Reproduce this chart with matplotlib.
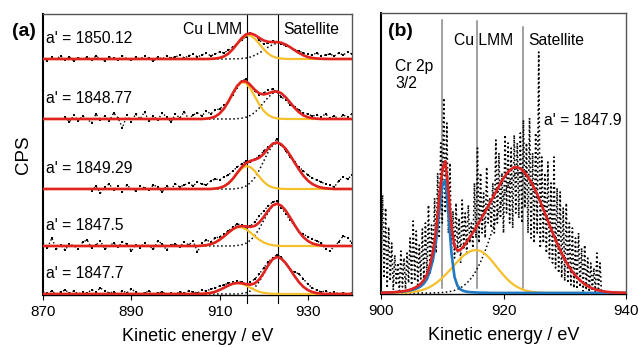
import numpy as np
import matplotlib
matplotlib.use("Agg")
import matplotlib.pyplot as plt

plt.rcParams['font.family'] = ['Liberation Sans', 'DejaVu Sans']

# ---------------- panel (a): five Cu LMM spectra (heights in arbitrary CPS) ----------------
labels_a = ["a' = 1850.12", "a' = 1848.77", "a' = 1849.29", "a' = 1847.5", "a' = 1847.7"]
start_a = [870, 875, 881, 870, 870]

data_a1 = [1, -2, 2, 0, 3, -1, 2, -2, 1, 0,
           2, -1, 3, 0, -2, 2, 1, -1, 3, 0,
           -1, 2, 0, 3, 1, -2, 2, 0, 3, 1,
           2, 4, 1, 3, 5, 2, 4, 6, 3, 5,
           7, 6, 9, 12, 15, 19, 22, 26, 24, 19,
           15, 16, 18, 17, 15, 13, 12, 9, 8, 6,
           5, 4, 6, 3, 4, 5, 3, 6, 4, 7,
           5]
data_a2 = [2, -3, 4, -2, 3, 0, -4, 5, -1, 3,
           -2, 6, 1, -9, 4, -3, 5, 0, 7, -2,
           3, -1, 6, 2, -3, 5, 1, 7, 0, 4,
           6, 3, 8, 5, 9, 10, 14, 17, 24, 31,
           38, 40, 34, 28, 24, 26, 29, 30, 27, 22,
           19, 14, 12, 9, 6, 5, 3, 4, 2, 5,
           1, 3, 0, 4, 2, 5]
data_a3 = [-2, 3, -4, 2, 5, -1, 3, -3, 4, 0,
           -2, 3, 1, -1, 4, 2, -3, 3, 0, 5,
           2, 4, 6, 3, 7, 5, 4, 8, 10, 9,
           12, 14, 18, 22, 25, 28, 27, 30, 33, 38,
           42, 45, 50, 44, 38, 32, 27, 22, 18, 14,
           11, 9, 7, 5, 4, 2, 8, 12, 10, 14]
data_a4 = [3, -2, 8, -3, 1, -4, 2, 0, -3, 4,
           6, -2, 1, 5, -3, 0, 3, -1, 4, 2,
           -5, 1, -2, 3, 0, -3, 5, 2, -4, 1,
           2, -1, 4, 1, 5, -6, 3, 6, 4, 8,
           9, 12, 15, 19, 22, 21, 18, 20, 24, 30,
           35, 40, 44, 45, 38, 32, 26, 20, 14, 12,
           9, 7, 5, 3, -3, -5, 0, 4, 10, 8,
           3]
data_a5 = [2, 1, 3, 0, 2, 4, 1, 3, 0, 2,
           1, 4, 2, 6, 3, 1, 2, 0, 3, 1,
           5, 2, 0, 1, 3, 0, 1, 2, 0, 1,
           0, 2, 1, 3, 2, 1, 4, 3, 5, 6,
           8, 9, 11, 12, 13, 12, 10, 12, 15, 20,
           26, 32, 36, 39, 37, 30, 25, 22, 20, 15,
           10, 6, 4, 2, 3, 1, 2, 0, 1, 0,
           1]

# fitted components, 870..940 eV in 1 eV steps (zero below 900 eV)
fit_e_a = np.arange(870, 941)
cu_a1 = [0] * 30 + [0, 0, 0, 0, 0, 0, 0, 0, 0.1,
                    0.4, 1.1, 2.6, 5.4, 9.7, 15.1, 20.3, 23.6, 23.6, 20.3, 15.1, 9.7, 5.4, 2.6, 1.1, 0.4, 0.1] + [0] * 15
sat_a1 = [0] * 30 + [0] * 13 + [0.1, 0.2, 0.5, 1.0, 2.0, 3.7, 6.0, 8.8, 11.8, 14.3, 15.8,
                                15.8, 14.3, 11.8, 8.8, 6.0, 3.7, 2.0, 1.0, 0.5, 0.2, 0.1] + [0] * 6
cu_a2 = [0] * 30 + [0] * 7 + [0.3, 1.0, 2.4, 5.4, 10.4, 17.5, 25.7, 32.9, 36.8, 35.8, 30.3,
                              22.4, 14.5, 8.1, 4.0, 1.7, 0.6, 0.2] + [0] * 16
sat_a2 = [0] * 30 + [0] * 14 + [0.3, 0.8, 1.8, 3.6, 6.7, 11.1, 16.4, 21.6, 25.5, 27,
                                25.5, 21.6, 16.4, 11.1, 6.7, 3.6, 1.8, 0.8, 0.3] + [0] * 8
cu_a3 = [0] * 30 + [0] * 9 + [0.4, 1.1, 2.7, 5.6, 10.1, 15.6, 20.5, 22.9, 21.9, 17.8, 12.3,
                              7.2, 3.6, 1.6, 0.6, 0.2] + [0] * 16
sat_a3 = [0] * 30 + [0] * 14 + [0.5, 1.3, 3.0, 6.2, 11.5, 18.9, 27.9, 36.8, 43.5, 46,
                                44.4, 40.1, 33.7, 26.4, 19.4, 13.2, 8.4, 5.0, 2.8, 1.4, 0.7, 0.3] + [0] * 5
cu_a4 = [0] * 30 + [0] * 6 + [0.3, 0.8, 1.8, 3.5, 6.2, 9.6, 13.4, 16.8, 18.7, 18.7, 16.8,
                              13.4, 9.6, 6.2, 3.5, 1.8, 0.8, 0.3] + [0] * 17
sat_a4 = [0] * 30 + [0] * 14 + [0.5, 1.2, 2.8, 5.7, 10.5, 17.3, 25.5, 33.6, 39.7, 42,
                                40.2, 35.3, 28.4, 21.0, 14.2, 8.8, 5.0, 2.6, 1.3, 0.5] + [0] * 7
cu_a5 = [0] * 30 + [0] * 6 + [0.2, 0.5, 1.1, 2.2, 4.0, 6.2, 8.5, 10.3, 11, 10.3, 8.5,
                              6.2, 4.0, 2.2, 1.1, 0.5, 0.2] + [0] * 18
sat_a5 = [0] * 30 + [0] * 15 + [0.5, 1.3, 3.1, 6.7, 12.4, 20.0, 28.1, 34.5, 37,
                                35.3, 30.8, 24.5, 17.8, 11.8, 7.1, 3.9, 2.0, 0.9, 0.4] + [0] * 7

data_a = [data_a1, data_a2, data_a3, data_a4, data_a5]
cu_a = [cu_a1, cu_a2, cu_a3, cu_a4, cu_a5]
sat_a = [sat_a1, sat_a2, sat_a3, sat_a4, sat_a5]
offsets_a = [235, 175, 105, 48, 0]
lines_a = [916.3, 923.2]

# ---------------- panel (b): Cr 2p 3/2 + Cu LMM ----------------
data_b = [10, 98, 15, 85,  5, 66, 12, 50,  3, 38, 8, 30,  2, 42, 6, 35,
          4, 40, 10, 55,  8, 72, 12, 62,  6, 48, 14, 64,  10, 70, 18, 88,
          20, 68, 30, 95,  40, 120, 55, 150,  70, 195, 80, 170,  60, 130, 45, 82,
          35, 90, 40, 75,  30, 93, 45, 80,  38, 88, 50, 70,  45, 110, 55, 145,
          50, 120, 60, 100,  55, 126, 70, 95,  65, 110, 60, 153,  70, 140, 75, 120,
          60, 158, 80, 150,  70, 145, 65, 158,  80, 150, 75, 160,  70, 173, 85, 150,
          60, 175, 55, 140,  50, 160, 60, 241,  45, 136, 50, 120,  40, 131, 35, 110,
          30, 136, 25, 105,  20, 101, 15, 85,  12, 90, 10, 70,  8, 65, 5, 55,
          4, 60, 6, 45,  2, 48, 3, 35,  1, 30, 2, 25,  1, 40, 0, 30,
          0]
data_e_b = np.arange(len(data_b)) * 0.25 + 900

fit_e_b = np.arange(81) * 0.5 + 900
cr_b = [0.3, 0.4, 0.5, 0.6, 0.7, 0.9, 1.1, 1.4, 1.8, 2.3, 3.0, 3.8, 5.0, 6.8, 9.5, 14,
        22, 34, 53, 82, 107, 113, 80, 40, 16, 7, 3.5, 2.0, 1.3, 0.9, 0.7, 0.5,
        0.4, 0.3, 0.3, 0.2] + [0.1] * 45
cu_b = [0] * 5 + [0.1, 0.2, 0.3, 0.4, 0.6, 0.9, 1.4, 1.9, 2.6, 3.5, 4.7, 6.1, 7.9, 10.0,
                  12.4, 15.1, 18.1, 21.3, 24.7, 28.1, 31.5, 34.7, 37.5, 39.8, 41.5, 42.6,
                  43, 42.5, 41.2, 39.0, 36.2, 32.8, 29.1, 25.3, 21.5, 17.9, 14.6, 11.6, 9.0,
                  6.9, 5.2, 3.8, 2.7, 1.9, 1.3, 0.9, 0.6, 0.4, 0.2, 0.1] + [0] * 26
sat_b = [0] * 17 + [0.1, 0.2, 0.3, 0.5, 0.8, 1.2, 1.8, 2.6, 3.8, 5.3, 7.3, 9.9, 13.1, 17.1,
                    22.0, 27.8, 34.5, 42.1, 50.5, 59.5, 69.0, 78.5, 87.9, 96.7, 104.5, 111.0,
                    115.9, 119, 120, 119.3, 117.3, 114.0, 109.6, 104.2, 97.9, 91.0, 83.5, 75.9,
                    68.2, 60.5, 53.2, 46.1, 39.6, 33.6, 28.2, 23.4, 19.2, 15.6, 12.5, 9.9, 7.8,
                    6.0, 4.6, 3.5, 2.6, 1.9, 1.4, 1.0, 0.7, 0.5, 0.4, 0.3, 0.2, 0.1]
lines_b = [910.0, 915.7, 923.2]

RED = '#e02320'
YEL = '#f4c02c'
BLUE = '#1f78c0'

fig = plt.figure(figsize=(6.38, 3.47), dpi=100)
axa = fig.add_axes([0.0674, 0.1499, 0.4843, 0.8098])
axb = fig.add_axes([0.5972, 0.1527, 0.3840, 0.8098])

# panel (a)
for d, c, s, off, st, lab in zip(data_a, cu_a, sat_a, offsets_a, start_a, labels_a):
    d = np.array(d, dtype=float)
    c = np.array(c, dtype=float)
    s = np.array(s, dtype=float)
    e = np.arange(st, st + len(d))
    axa.plot(e, d + off, color='k', ls=':', lw=1.0, marker='s', ms=1.7, mew=0, zorder=2)
    axa.plot(fit_e_a, s + off, color='k', ls=':', lw=1.1, zorder=3)
    axa.plot(fit_e_a, c + off, color=YEL, lw=1.6, zorder=4)
    axa.plot(fit_e_a, c + s + off, color=RED, lw=1.9, zorder=5)
    axa.text(870.6, off + 20, lab, fontsize=11.3, ha='left', va='center')
for xl in lines_a:
    axa.plot([xl, xl], [-9, 280], color='k', lw=0.8, clip_on=False, zorder=1)

axa.text(915.2, 264, 'Cu LMM', fontsize=11.3, ha='right', va='center')
axa.text(924.5, 264, 'Satellite', fontsize=11.3, ha='left', va='center')
axa.set_xlim(870, 940)
axa.set_ylim(-1, 280)
axa.set_xticks([870, 890, 910, 930])
axa.set_yticks([])
axa.set_xlabel('Kinetic energy / eV', fontsize=13, labelpad=6)
axa.set_ylabel('CPS', fontsize=13.5)
axa.yaxis.set_label_coords(-0.036, 0.5)

# panel (b)
cr = np.array(cr_b)
cu = np.array(cu_b)
sat = np.array(sat_b)
axb.plot(data_e_b, data_b, color='k', ls=':', lw=1.2, zorder=2)
for xl, top in zip(lines_b, [0.975, 0.97, 0.95]):
    axb.axvline(xl, ymin=0.02, ymax=top, color='#888888', lw=1.1, zorder=1)
axb.plot(fit_e_b, sat, color='k', ls=':', lw=1.1, zorder=3)
axb.plot(fit_e_b, cu, color=YEL, lw=1.6, zorder=4)
axb.plot(fit_e_b, cr, color=BLUE, lw=1.9, zorder=5)
axb.plot(fit_e_b, cr + cu + sat, color=RED, lw=1.9, zorder=6)

axb.text(901.1, 262, '(b)', fontsize=14, fontweight='bold', ha='left', va='center')
axb.text(916.7, 253, 'Cu LMM', fontsize=11.3, ha='center', va='center')
axb.text(924.0, 253, 'Satellite', fontsize=11.3, ha='left', va='center')
axb.text(902.3, 234, 'Cr 2p\n3/2', fontsize=11.3, ha='left', va='top', linespacing=1.15)
axb.text(926.6, 173, "a' = 1847.9", fontsize=11.3, ha='left', va='center')
axb.set_xlim(900, 940)
axb.set_ylim(-1, 280)
axb.set_xticks([900, 920, 940])
axb.set_yticks([])
axb.set_xlabel('Kinetic energy / eV', fontsize=13, labelpad=6)

for ax in (axa, axb):
    ax.tick_params(axis='x', direction='out', length=3.5, width=0.8, labelsize=11, pad=4)
    ax.spines['left'].set_linewidth(1.5)
    ax.spines['bottom'].set_linewidth(1.0)
    for side in ('top', 'right'):
        ax.spines[side].set_color('#555555')
        ax.spines[side].set_linewidth(1.0)

fig.text(0.0188, 0.908, '(a)', fontsize=14, fontweight='bold', ha='left', va='center')

fig.savefig('out.png', dpi=100)
